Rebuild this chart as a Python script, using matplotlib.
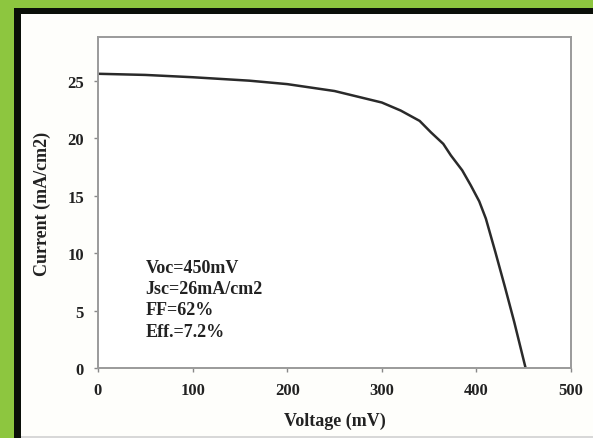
import matplotlib
matplotlib.use("Agg")
import matplotlib.pyplot as plt
from matplotlib.patches import Rectangle

# J-V curve
voltage = [0, 50, 100, 160, 200, 250, 270, 300, 320, 340, 352, 365, 373, 385,
           394, 403, 410, 420, 430, 440, 452]
current = [25.6, 25.5, 25.3, 25.0, 24.7, 24.1, 23.7, 23.1, 22.4, 21.5, 20.5,
           19.5, 18.5, 17.2, 15.9, 14.5, 13.0, 10.1, 7.1, 4.0, 0.0]

x_ticks = [0, 100, 200, 300, 400, 500]
y_ticks = [0, 5, 10, 15, 20, 25]
info_lines = ["Voc=450mV", "Jsc=26mA/cm2", "FF=62%", "Eff.=7.2%"]

plt.rcParams['font.family'] = ['Liberation Serif', 'DejaVu Serif']
plt.rcParams['font.weight'] = 'bold'

W, H = 593, 439
fig = plt.figure(figsize=(W / 100, H / 100), dpi=100, facecolor='#8dc63f')

# black frame and white inner panel (behind the axes)
fig.patches.append(Rectangle((14 / W, 0), 1, 1 - 9 / H, transform=fig.transFigure,
                             facecolor='#0a0f08', edgecolor='none', zorder=-10))
fig.patches.append(Rectangle((21 / W, 2 / H), 1, 1 - 17 / H, transform=fig.transFigure,
                             facecolor='#fefefb', edgecolor='none', zorder=-9))
fig.patches.append(Rectangle((21 / W, 0), 1, 2 / H, transform=fig.transFigure,
                             facecolor='#d8d8d8', edgecolor='none', zorder=-9))

ax = fig.add_axes([98 / W, 1 - 369 / H, (571 - 98) / W, (369 - 38) / H])
ax.set_zorder(1)
ax.set_facecolor('white')
ax.plot(voltage, current, color='#2a2a2a', lw=1.8, solid_capstyle='round')

ax.set_xlim(0, 500)
ax.set_ylim(0, 28.8)
ax.set_xticks(x_ticks)
ax.set_yticks(y_ticks)
ax.tick_params(labelsize=12, length=3, width=1, color='#888888', pad=7)
for lab in ax.get_xticklabels() + ax.get_yticklabels():
    lab.set_fontweight('bold')
    lab.set_color('#222222')
for s in ax.spines.values():
    s.set_color('#9a9a9a')
    s.set_linewidth(1.4)

ax.set_xlabel('Voltage (mV)', fontsize=13, fontweight='bold', color='#222222', labelpad=10)
ax.set_ylabel('Current (mA/cm2)', fontsize=13, fontweight='bold', color='#222222', labelpad=12)

for i, t in enumerate(info_lines):
    ax.text(50, 8.75 - i * 1.85, t, fontsize=13, fontweight='bold', color='#222222',
            va='center', ha='left')

fig.savefig('out.png', dpi=100, facecolor=fig.get_facecolor())
